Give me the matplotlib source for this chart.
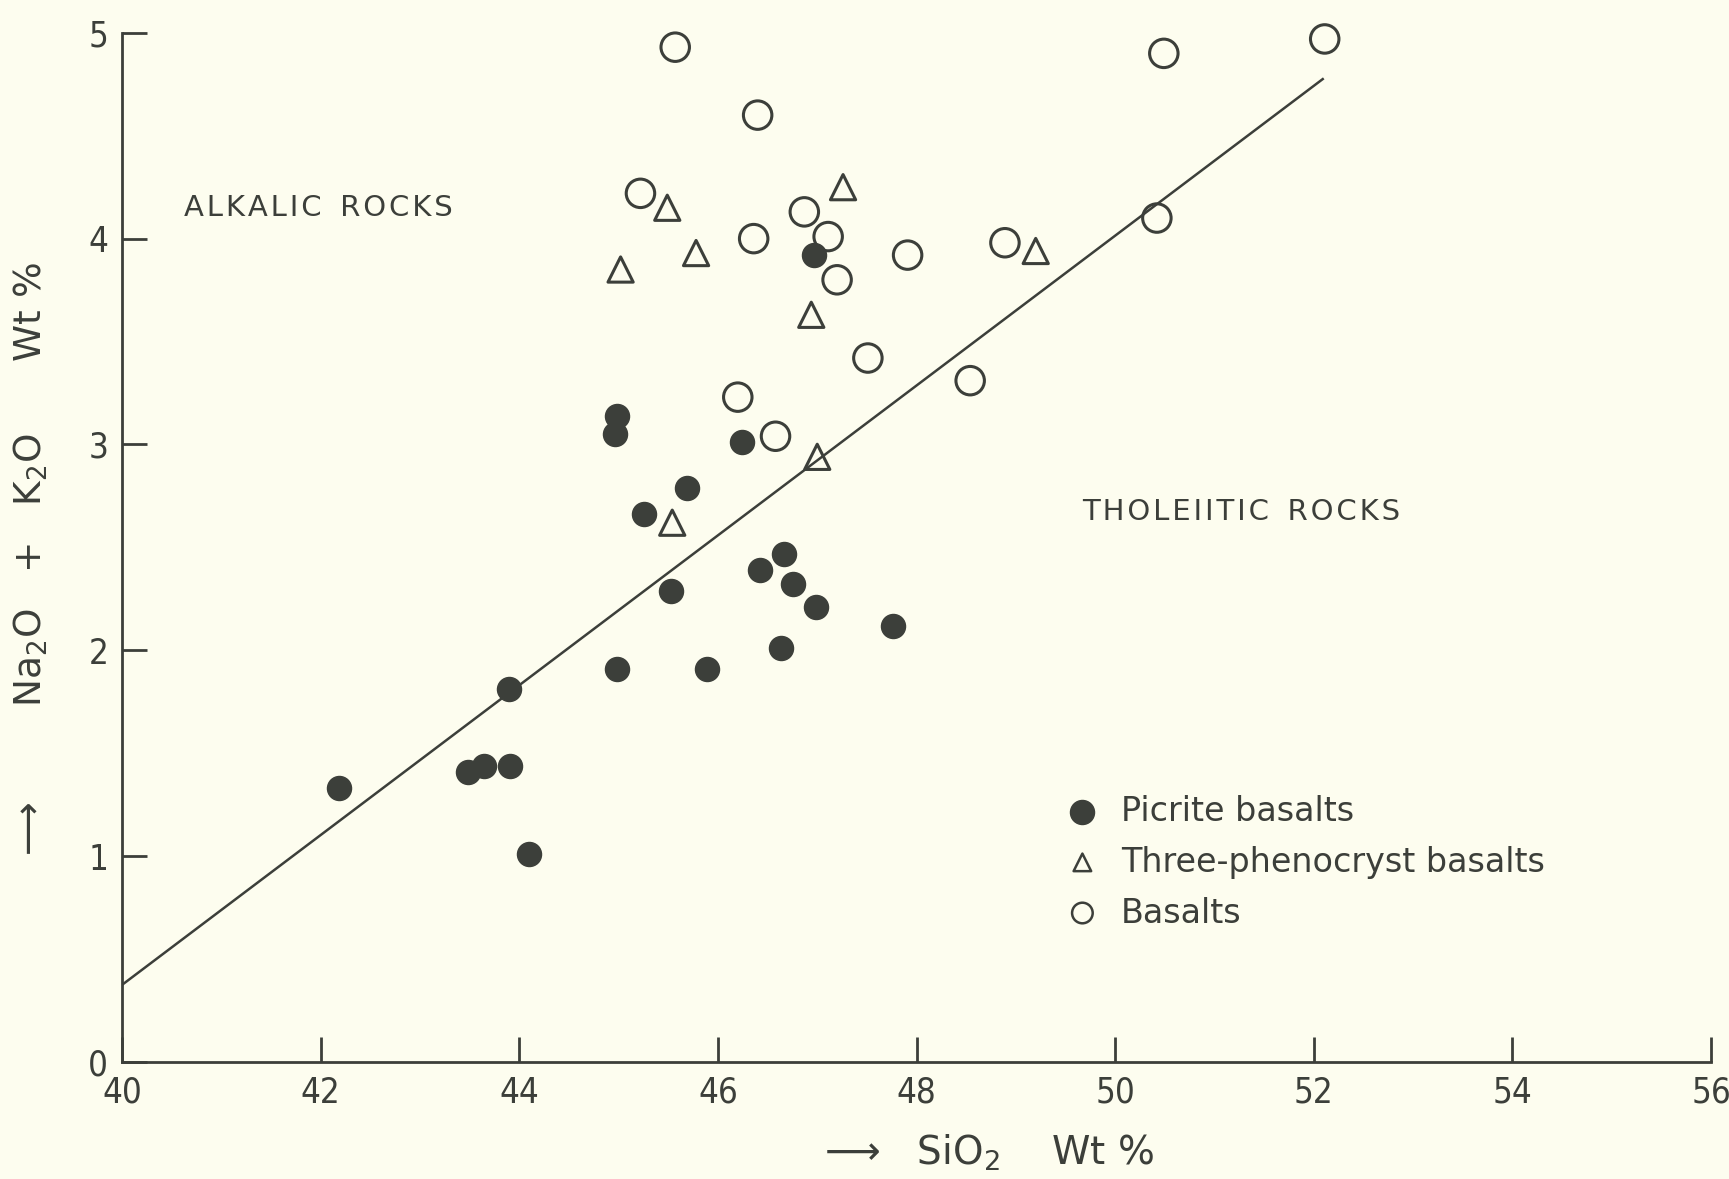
import matplotlib.pyplot as plt
import numpy as np

# Picrite basalts (filled circles)
pic_sio2 = [42.18, 43.48, 43.64, 43.91, 43.90, 44.10, 44.98, 44.98, 44.96, 45.26, 45.53,
            45.69, 45.89, 46.24, 46.42, 46.67, 46.76, 46.64, 46.99, 47.76, 46.97]
pic_alk = [1.33, 1.41, 1.44, 1.44, 1.81, 1.01, 1.91, 3.14, 3.05, 2.66, 2.29,
           2.79, 1.91, 3.01, 2.39, 2.47, 2.32, 2.01, 2.21, 2.12, 3.92]

# Three-phenocryst basalts (triangles)
tri_sio2 = [45.02, 45.49, 45.78, 45.54, 47.00, 46.94, 47.26, 49.20]
tri_alk = [3.85, 4.15, 3.93, 2.62, 2.94, 3.63, 4.25, 3.94]

# Basalts (open circles)
bas_sio2 = [45.57, 46.40, 45.22, 46.36, 46.87, 47.11, 47.20, 47.91, 48.89, 47.51,
            46.20, 46.58, 48.54, 50.49, 52.11, 50.42]
bas_alk = [4.93, 4.60, 4.22, 4.00, 4.13, 4.01, 3.80, 3.92, 3.98, 3.42,
           3.23, 3.04, 3.31, 4.90, 4.97, 4.10]

# dividing line
line_x = [40.0, 52.09]
line_y = [0.375, 4.775]

ink = "#3c3f3a"
paper = "#fdfdef"

fig = plt.figure(figsize=(17.29, 11.79), dpi=100, facecolor=paper)
ax = fig.add_axes([0.0706, 0.0992, 0.919, 0.873], facecolor=paper)

ax.plot(line_x, line_y, color=ink, lw=1.8)
ax.scatter(pic_sio2, pic_alk, s=300, color=ink, zorder=3, clip_on=False)
ax.scatter(tri_sio2, tri_alk, s=330, marker="^", facecolors="none", edgecolors=ink,
           linewidths=2.2, zorder=3, clip_on=False)
ax.scatter(bas_sio2, bas_alk, s=420, marker="o", facecolors="none", edgecolors=ink,
           linewidths=2.2, zorder=3, clip_on=False)

ax.set_xlim(40, 56)
ax.set_ylim(0, 5)
ax.set_xticks(np.arange(40, 57, 2))
ax.set_yticks(np.arange(0, 6, 1))
for s in ["top", "right"]:
    ax.spines[s].set_visible(False)
for s in ["left", "bottom"]:
    ax.spines[s].set_color(ink)
    ax.spines[s].set_linewidth(2)
ax.tick_params(direction="in", length=18, width=2, color=ink, labelcolor=ink,
               labelsize=25, pad=10)
for lab in ax.get_xticklabels() + ax.get_yticklabels():
    lab.set_fontstretch("condensed")
    lab.set_fontweight("light")

hs = "\u200a"
ax.text(40.62, 4.15, hs.join("ALKALIC") + "  " + hs.join("ROCKS"),
        fontsize=21, color=ink, va="center")
ax.text(49.67, 2.67, hs.join("THOLEIITIC") + "  " + hs.join("ROCKS"),
        fontsize=21, color=ink, va="center")

# legend drawn by hand in data space
leg_y = [1.216, 0.97, 0.724]
leg_lab = ["Picrite basalts", "Three-phenocryst basalts", "Basalts"]
ax.scatter([49.67], [leg_y[0]], s=300, color=ink)
ax.scatter([49.67], [leg_y[1]], s=160, marker="^", facecolors="none", edgecolors=ink, linewidths=1.8)
ax.scatter([49.67], [leg_y[2]], s=220, marker="o", facecolors="none", edgecolors=ink, linewidths=1.8)
for y, t in zip(leg_y, leg_lab):
    ax.text(50.06, y, t, fontsize=24, color=ink, va="center")

fig.text(0.572, 0.022, "\u27f6   SiO$_2$    Wt %", fontsize=28, color=ink, ha="center", va="center")
fig.text(0.018, 0.526, "\u27f6        Na$_2$O   +   K$_2$O      Wt %", fontsize=27, color=ink,
         rotation=90, ha="center", va="center")

fig.savefig("out.png", dpi=100, facecolor=paper)
